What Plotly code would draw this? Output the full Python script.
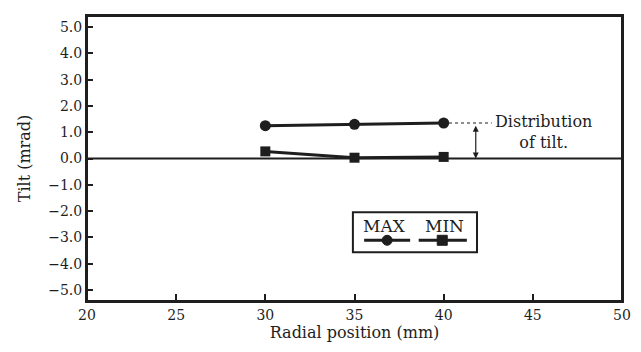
import plotly.graph_objects as go

positions = [30, 35, 40]
tilt_max = [1.25, 1.3, 1.35]
tilt_min = [0.27, 0.03, 0.06]
x_ticks = [20, 25, 30, 35, 40, 45, 50]
y_ticks = [5, 4, 3, 2, 1, 0, -1, -2, -3, -4, -5]
y_ticktext = ["5.0", "4.0", "3.0", "2.0", "1.0", "0.0", "\u22121.0", "\u22122.0", "\u22123.0", "\u22124.0", "\u22125.0"]

FONT = "DejaVu Serif, Liberation Serif, serif"
INK = "#1e1e1e"

fig = go.Figure()
fig.add_trace(go.Scatter(x=[20, 50], y=[0, 0], mode="lines", line=dict(color=INK, width=1.8),
                         showlegend=False, hoverinfo="skip"))
fig.add_trace(go.Scatter(x=positions, y=tilt_max, mode="lines+markers", name="MAX",
                         line=dict(color=INK, width=3), marker=dict(symbol="circle", size=11, color=INK)))
fig.add_trace(go.Scatter(x=positions, y=tilt_min, mode="lines+markers", name="MIN",
                         line=dict(color=INK, width=3), marker=dict(symbol="square", size=10, color=INK)))

shapes = [
    dict(type="line", xref="x", yref="y", x0=40.3, x1=42.7, y0=tilt_max[-1], y1=tilt_max[-1],
         line=dict(color=INK, width=1.2, dash="dot")),
    dict(type="rect", xref="paper", yref="paper", x0=0.497, x1=0.729, y0=0.171, y1=0.311,
         line=dict(color=INK, width=2)),
    dict(type="line", xref="paper", yref="paper", x0=0.518, x1=0.604, y0=0.213, y1=0.213,
         line=dict(color=INK, width=3)),
    dict(type="line", xref="paper", yref="paper", x0=0.62, x1=0.71, y0=0.213, y1=0.213,
         line=dict(color=INK, width=3)),
    dict(type="circle", xref="paper", yref="paper", xsizemode="pixel", ysizemode="pixel",
         xanchor=0.561, yanchor=0.213, x0=-5, x1=5, y0=-5, y1=5, fillcolor=INK, line=dict(color=INK, width=1)),
    dict(type="rect", xref="paper", yref="paper", xsizemode="pixel", ysizemode="pixel",
         xanchor=0.664, yanchor=0.213, x0=-5, x1=5, y0=-5, y1=5, fillcolor=INK, line=dict(color=INK, width=1)),
    dict(type="rect", xref="paper", yref="paper", x0=0, x1=1, y0=0, y1=1,
         line=dict(color=INK, width=2), layer="above"),
]

annotations = [
    dict(x=41.8, y=0.0, ax=41.8, ay=tilt_max[-1] - 0.05, xref="x", yref="y", axref="x", ayref="y",
         text="", showarrow=True, arrowhead=2, startarrowhead=2, arrowside="end+start",
         arrowsize=1, arrowwidth=1.2, arrowcolor=INK),
    dict(x=45.6, y=1.0, xref="x", yref="y", text="Distribution<br>of tilt.", showarrow=False,
         xanchor="center", yanchor="middle",
         font=dict(family=FONT, size=16, color=INK), align="center"),
    dict(x=0.557, y=0.262, xref="paper", yref="paper", text="MAX", showarrow=False,
         xanchor="center", yanchor="middle", font=dict(family=FONT, size=17, color=INK)),
    dict(x=0.669, y=0.262, xref="paper", yref="paper", text="MIN", showarrow=False,
         xanchor="center", yanchor="middle", font=dict(family=FONT, size=17, color=INK)),
]

# page body has an 8px default margin; compensate so the plot sits where the reference's does
fig.update_layout(
    width=633, height=344,
    margin=dict(l=79, r=19, t=8, b=51, autoexpand=False),
    paper_bgcolor="white", plot_bgcolor="white",
    showlegend=False,
    font=dict(family=FONT, size=14, color=INK),
    shapes=shapes, annotations=annotations,
    xaxis=dict(range=[20, 50], tickvals=x_ticks, ticks="inside", ticklen=7, tickwidth=1.5,
               tickcolor=INK, showgrid=False, zeroline=False, showline=True, linecolor=INK,
               linewidth=2, mirror=True, automargin=False,
               title=dict(text="Radial position (mm)", font=dict(family=FONT, size=16), standoff=4)),
    yaxis=dict(range=[-5.42, 5.42], tickvals=y_ticks, ticktext=y_ticktext, ticks="inside", ticklen=6,
               tickwidth=1.5, tickcolor=INK, showgrid=False, zeroline=False, showline=True,
               linecolor=INK, linewidth=2, mirror=True, automargin=False,
               title=dict(text="Tilt (mrad)", font=dict(family=FONT, size=16), standoff=14)),
)

fig.write_html("out.html")
